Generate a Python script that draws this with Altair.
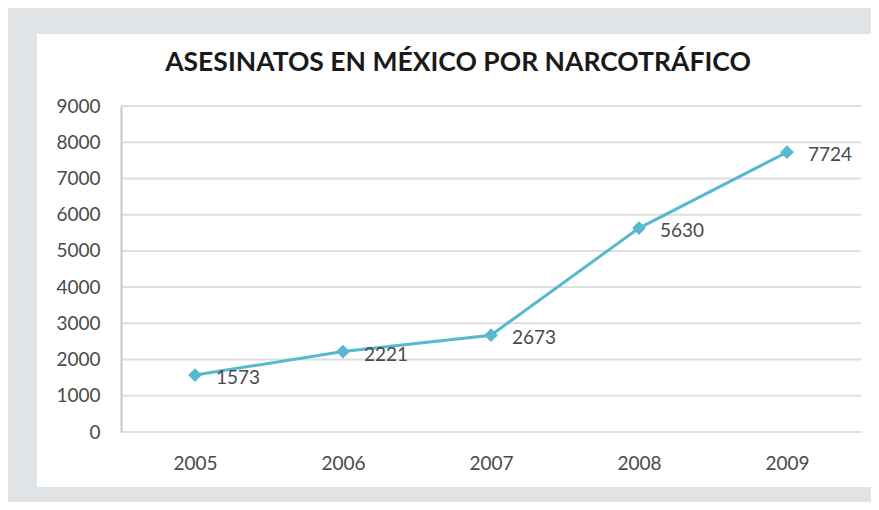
import altair as alt
import pandas as pd

years = ["2005", "2006", "2007", "2008", "2009"]
values = [1573, 2221, 2673, 5630, 7724]
y_ticks = [0, 1000, 2000, 3000, 4000, 5000, 6000, 7000, 8000, 9000]
title_text = "ASESINATOS EN MÉXICO POR NARCOTRÁFICO"

df = pd.DataFrame({"year": years, "value": values})
grid_df = pd.DataFrame({"tick": y_ticks})

LINE = "#56b9d0"
FONT = "Lato"
TXT = "#4a4a4a"

x_enc = alt.X(
    "year:N",
    title=None,
    scale=alt.Scale(type="point", padding=0.5),
    axis=alt.Axis(
        labelAngle=0, ticks=False, domain=False, zindex=1,
        labelPadding=22, labelFontSize=19, labelColor=TXT, labelFont=FONT, grid=False,
    ),
)
y_scale = alt.Scale(domain=[0, 9000], nice=False, zero=True)
y_axis = alt.Axis(
    values=y_ticks, format="d", ticks=False, domain=True, domainColor="#c8c8c8", domainWidth=2,
    grid=False, zindex=1,
    labelPadding=21, labelFontSize=19, labelColor=TXT, labelFont=FONT,
)
y_enc = alt.Y("value:Q", title=None, scale=y_scale, axis=y_axis)

panel = alt.Chart(alt.Data(values=[{"t": title_text}])).mark_rect(color="white").encode(
    x=alt.value(-84), x2=alt.value(750), y=alt.value(-72), y2=alt.value(381)
)

grid = alt.Chart(grid_df).mark_rule(color="#dedede", strokeWidth=2).encode(
    y=alt.Y("tick:Q", scale=y_scale, title=None, axis=y_axis)
)

title = alt.Chart(alt.Data(values=[{"t": title_text}])).mark_text(
    font=FONT, fontSize=26.5, fontWeight="bold", color="#1a1a1a", align="center", baseline="middle"
).encode(text="t:N", x=alt.value(337), y=alt.value(-43))

base = alt.Chart(df)
line = base.mark_line(color=LINE, strokeWidth=3).encode(x=x_enc, y=y_enc)
pts = base.mark_point(shape="diamond", filled=True, size=190, color=LINE, opacity=1).encode(x=x_enc, y=y_enc)
labels = base.mark_text(
    align="left", baseline="middle", dx=21, dy=3, font=FONT, fontSize=19, color=TXT
).encode(x=x_enc, y=y_enc, text="value:Q")

chart = alt.layer(panel, grid, line, pts, labels, title).properties(
    width=740, height=326,
    autosize=alt.AutoSizeParams(type="none"),
    padding={"left": 113, "top": 98, "right": 10, "bottom": 70},
    background="#e1e4e6",
).configure_view(stroke=None)

chart.save("out.html", embed_options={"renderer": "svg", "actions": False})
